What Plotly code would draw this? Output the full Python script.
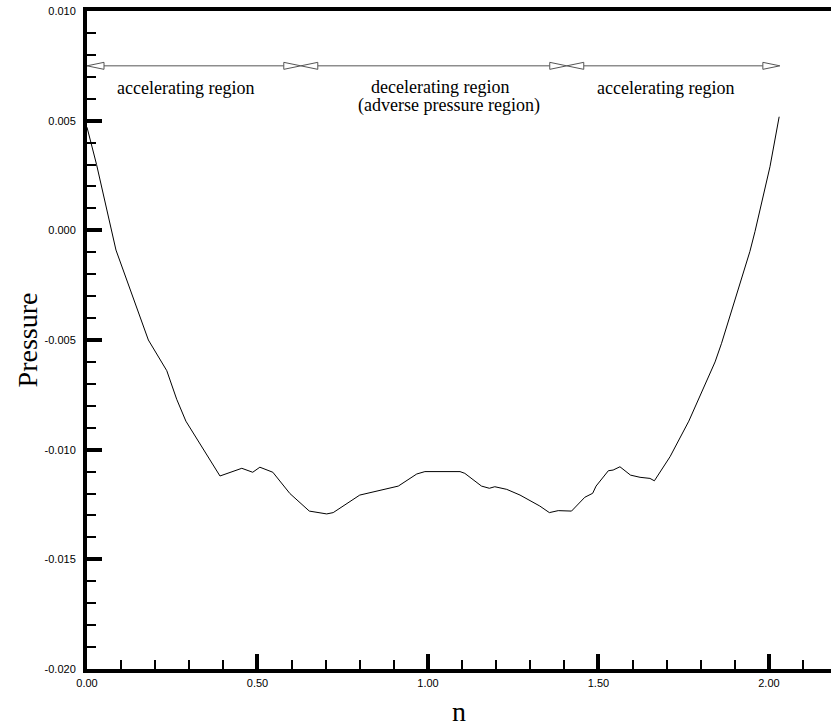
import plotly.graph_objects as go

# ---- data ----
n_vals = [0.000, 0.028, 0.085, 0.180, 0.234, 0.263, 0.290, 0.390, 0.454, 0.486,
          0.507, 0.545, 0.595, 0.652, 0.703, 0.722, 0.800, 0.859, 0.913, 0.967,
          0.991, 1.094, 1.108, 1.157, 1.180, 1.196, 1.231, 1.270, 1.328, 1.356,
          1.382, 1.421, 1.460, 1.483, 1.493, 1.529, 1.543, 1.563, 1.594, 1.622,
          1.651, 1.664, 1.710, 1.765, 1.842, 1.861, 1.944, 1.959, 2.003, 2.030]
pressure = [0.0047, 0.0030, -0.0009, -0.0050, -0.0064, -0.0077, -0.0087, -0.0112, -0.01085, -0.01103,
            -0.0108, -0.01103, -0.0120, -0.0128, -0.01293, -0.01287, -0.01207, -0.01184, -0.01166, -0.01111,
            -0.0110, -0.0110, -0.01108, -0.01166, -0.01176, -0.01169, -0.01181, -0.01207, -0.01257, -0.01287,
            -0.01278, -0.0128, -0.01217, -0.01199, -0.01166, -0.01096, -0.01093, -0.01078, -0.01116, -0.01126,
            -0.01131, -0.01142, -0.01032, -0.0087, -0.0060, -0.00515, -0.00097, -0.00006, 0.0029, 0.00518]

x_tickvals = [0.0, 0.5, 1.0, 1.5, 2.0]
x_ticktext = ["0.00", "0.50", "1.00", "1.50", "2.00"]
y_tickvals = [0.010, 0.005, 0.0, -0.005, -0.010, -0.015, -0.020]
y_ticktext = ["0.010", "0.005", "0.000", "-0.005", "-0.010", "-0.015", "-0.020"]

region_bounds = [0.0, 0.627, 1.407, 2.032]
arrow_level = 0.0075
region_labels = ["accelerating region", "decelerating region", "(adverse pressure region)", "accelerating region"]
label_x = [0.290, 1.035, 1.062, 1.696]
label_y = [0.00649, 0.00655, 0.00571, 0.00649]

# ---- geometry ----
W, H = 831, 727
ML, MR, MT, MB = 87, 0, 11, 58
x_range = [0.0, 2.182]
y_range = [-0.020, 0.010]
px_per_x = (W - ML - MR) / (x_range[1] - x_range[0])
px_per_y = (H - MT - MB) / (y_range[1] - y_range[0])

fig = go.Figure()
fig.add_trace(go.Scatter(x=n_vals, y=pressure, mode="lines",
                         line=dict(color="black", width=1), showlegend=False,
                         hoverinfo="x+y"))

shapes = []
arrow_col = "#555555"
head_len = 17 / px_per_x
head_half = 3.5 / px_per_y
for a, b in zip(region_bounds[:-1], region_bounds[1:]):
    shapes.append(dict(type="line", xref="x", yref="y", x0=a + head_len, x1=b - head_len,
                       y0=arrow_level, y1=arrow_level, line=dict(color=arrow_col, width=1)))
    shapes.append(dict(type="path", xref="x", yref="y",
                       path=f"M {a},{arrow_level} L {a + head_len},{arrow_level + head_half} "
                            f"L {a + head_len},{arrow_level - head_half} Z",
                       fillcolor="white", line=dict(color=arrow_col, width=1)))
    shapes.append(dict(type="path", xref="x", yref="y",
                       path=f"M {b},{arrow_level} L {b - head_len},{arrow_level + head_half} "
                            f"L {b - head_len},{arrow_level - head_half} Z",
                       fillcolor="white", line=dict(color=arrow_col, width=1)))

annotations = []
for txt, xx, yy in zip(region_labels, label_x, label_y):
    annotations.append(dict(text=txt, x=xx, y=yy, xref="x", yref="y", showarrow=False,
                            font=dict(family="Liberation Serif", size=18, color="black"),
                            xanchor="center", yanchor="middle"))

fig.update_layout(
    width=W, height=H,
    margin=dict(l=ML, r=MR, t=MT, b=MB, pad=0, autoexpand=False),
    paper_bgcolor="white", plot_bgcolor="white",
    shapes=shapes, annotations=annotations,
    font=dict(family="Liberation Sans", size=11, color="black"),
)
fig.update_xaxes(
    range=x_range, showgrid=False, zeroline=False, automargin=False,
    showline=True, linecolor="black", linewidth=4, mirror=True,
    ticks="inside", ticklen=15, tickwidth=3.5, tickcolor="black",
    tickvals=x_tickvals, ticktext=x_ticktext, ticklabelstandoff=1,
    minor=dict(ticks="inside", ticklen=9, tickwidth=1.5, tickcolor="black", dtick=0.1, showgrid=False),
    title=dict(text="n", font=dict(family="Liberation Serif", size=28), standoff=22),
)
fig.update_yaxes(
    range=y_range, showgrid=False, zeroline=False, automargin=False,
    showline=True, linecolor="black", linewidth=4, mirror=False,
    ticks="inside", ticklen=15, tickwidth=3.5, tickcolor="black",
    tickvals=y_tickvals, ticktext=y_ticktext, ticklabelstandoff=5,
    minor=dict(ticks="inside", ticklen=9, tickwidth=1.5, tickcolor="black", dtick=0.001, showgrid=False),
    title=dict(text="Pressure", font=dict(family="Liberation Serif", size=28), standoff=0),
)

fig.write_html("out.html", config={"displayModeBar": False},
               post_script="document.body.style.margin='0';document.body.style.padding='0';")
